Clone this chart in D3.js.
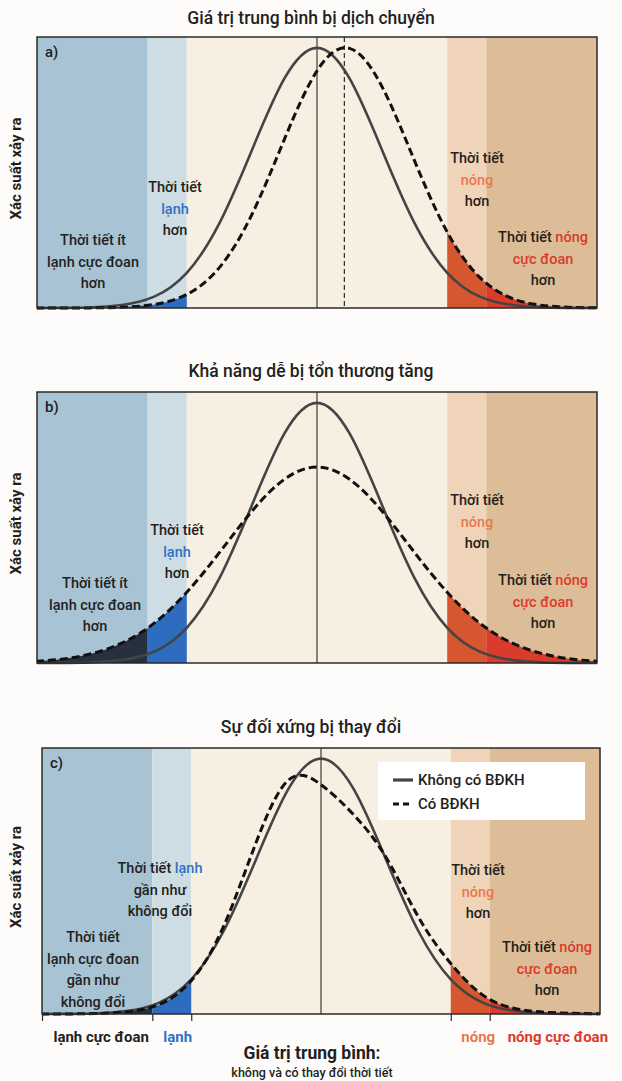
<!DOCTYPE html>
<html>
<head>
<meta charset="utf-8">
<script src="https://cdn.jsdelivr.net/npm/d3@7"></script>
<style>
  body { margin: 0; background: #fdfcfa; }
  svg text { font-family: Roboto, "Noto Sans", sans-serif; }
</style>
</head>
<body>
<div id="chart"></div>
<script>
// x positions in standard deviations, shared by every curve
const xGrid = [-4.5, -4, -3.5, -3, -2.5, -2, -1.5, -1, -0.5, 0, 0.5, 1, 1.5, 2, 2.5, 3, 3.5, 4, 4.5];

// curve heights (share of the frame height)
const solidA  = [0, 0.0003, 0.002, 0.011, 0.042, 0.130, 0.312, 0.582, 0.847, 0.96, 0.847, 0.582, 0.312, 0.130, 0.042, 0.011, 0.002, 0.0003, 0];
const dashedA = [0, 0.0001, 0.0004, 0.0027, 0.013, 0.050, 0.149, 0.345, 0.623, 0.875, 0.958, 0.816, 0.542, 0.280, 0.113, 0.035, 0.0086, 0.0016, 0.0002];
const solidB  = [0, 0.0003, 0.002, 0.011, 0.042, 0.130, 0.312, 0.582, 0.847, 0.96, 0.847, 0.582, 0.312, 0.130, 0.042, 0.011, 0.002, 0.0003, 0];
const dashedB = [0.004, 0.012, 0.032, 0.073, 0.147, 0.261, 0.407, 0.560, 0.678, 0.723, 0.678, 0.560, 0.407, 0.261, 0.147, 0.073, 0.032, 0.012, 0.004];
const solidC  = [0, 0.0003, 0.002, 0.011, 0.042, 0.130, 0.312, 0.582, 0.847, 0.96, 0.847, 0.582, 0.312, 0.130, 0.042, 0.011, 0.002, 0.0003, 0];
const dashedC = [0, 0.0002, 0.0015, 0.008, 0.035, 0.125, 0.33, 0.645, 0.88, 0.862, 0.75, 0.59, 0.365, 0.19, 0.07, 0.02, 0.006, 0.002, 0.0005];

const dashedMeanA = 0.42;

// band edges: extreme cold | cold | normal | hot | extreme hot
const bandEdges = [-2.6, -2, 2, 2.6];
const xExtent = [-4.3, 4.3];

const panelTitles = ["Giá trị trung bình bị dịch chuyển", "Khả năng dễ bị tổn thương tăng", "Sự đối xứng bị thay đổi"];
const panelTags = ["a)", "b)", "c)"];
const yLabel = "Xác suất xảy ra";

// label lines: [text, colour key] pieces
const labelsAB = [
  [[["Thời tiết ít", "k"]], [["lạnh cực đoan", "k"]], [["hơn", "k"]]],
  [[["Thời tiết", "k"]], [["lạnh", "blue"]], [["hơn", "k"]]],
  [[["Thời tiết", "k"]], [["nóng", "orange"]], [["hơn", "k"]]],
  [[["Thời tiết ", "k"], ["nóng", "red"]], [["cực đoan", "red"]], [["hơn", "k"]]]
];
const labelsC = [
  [[["Thời tiết", "k"]], [["lạnh cực đoan", "k"]], [["gần như", "k"]], [["không đổi", "k"]]],
  [[["Thời tiết ", "k"], ["lạnh", "blue"]], [["gần như", "k"]], [["không đổi", "k"]]],
  [[["Thời tiết", "k"]], [["nóng", "orange"]], [["hơn", "k"]]],
  [[["Thời tiết ", "k"], ["nóng", "red"]], [["cực đoan", "red"]], [["hơn", "k"]]]
];

const legendNames = ["Không có BĐKH", "Có BĐKH"];
const axisLabels = [["lạnh cực đoan", "k"], ["lạnh", "blue"], ["nóng", "orange"], ["nóng cực đoan", "red"]];
const xTitle = "Giá trị trung bình:";
const xSubtitle = "không và có thay đổi thời tiết";

const textColor = { k: "#231f20", blue: "#2f72c4", orange: "#e8794c", red: "#dc3a2a" };
const bandColors = ["#a8c4d4", "#cedde4", "#f7efe2", "#efd4b9", "#dcbd98"];
const fillColors = ["#27313e", "#2e6cc0", "#d6572f", "#da3b2c"];

// layout per panel (pixels)
const panels = [
  { solid: solidA, dashed: dashedA, labels: labelsAB, left: 37, right: 597, top: 37, bottom: 308, titleY: 24,
    labelX: [93, 175, 477, 543], labelY: [-68, -121, -150, -71] },
  { solid: solidB, dashed: dashedB, labels: labelsAB, left: 37, right: 597, top: 392, bottom: 663, titleY: 377,
    labelX: [95, 177, 477, 543], labelY: [-80, -133, -163, -83] },
  { solid: solidC, dashed: dashedC, labels: labelsC, left: 42, right: 600, top: 748, bottom: 1014, titleY: 733,
    labelX: [93, 160, 478, 547], labelY: [-77, -146, -144, -67] }
];

const width = 622, height = 1081;
const svg = d3.select("#chart").append("svg")
  .attr("width", width).attr("height", height);
svg.append("rect").attr("width", width).attr("height", height).attr("fill", "#fdfcfa");

const defs = svg.append("defs");
const curve = d3.curveNatural;

panels.forEach(function(p, i) {
  const x = d3.scaleLinear().domain(xExtent).range([p.left, p.right]);
  const y = d3.scaleLinear().domain([0, 1]).range([p.bottom, p.top]);
  const edges = [xExtent[0]].concat(bandEdges, [xExtent[1]]);

  const g = svg.append("g");

  // title
  g.append("text")
    .attr("x", 311).attr("y", p.titleY)
    .attr("text-anchor", "middle")
    .style("font-size", "17.5px").style("font-weight", 500)
    .style("fill", "#231f20")
    .text(panelTitles[i]);

  // y axis label
  g.append("text")
    .attr("transform", "translate(21," + ((p.top + p.bottom) / 2 - 4) + ") rotate(-90)")
    .attr("text-anchor", "middle")
    .style("font-size", "15px").style("font-weight", 700)
    .style("fill", "#231f20")
    .text(yLabel);

  // background bands
  g.selectAll(".band")
    .data(d3.range(5))
    .enter().append("rect")
    .attr("x", k => x(edges[k]))
    .attr("y", p.top)
    .attr("width", k => x(edges[k + 1]) - x(edges[k]))
    .attr("height", p.bottom - p.top)
    .attr("fill", k => bandColors[k]);

  const pts = d => xGrid.map((v, j) => [v, d[j]]);
  const line = d3.line().x(d => x(d[0])).y(d => y(d[1])).curve(curve);
  const area = d3.area().x(d => x(d[0])).y0(y(0)).y1(d => y(d[1])).curve(curve);

  // clip to frame
  const frameId = "frame" + i;
  defs.append("clipPath").attr("id", frameId)
    .append("rect").attr("x", p.left).attr("y", p.top - 5)
    .attr("width", p.right - p.left).attr("height", p.bottom - p.top + 7);

  // tail fills under the dashed curve
  [[0, 0], [1, 1], [3, 2], [4, 3]].forEach(function(pair) {
    const b = pair[0], c = pair[1];
    const id = "clip" + i + "_" + b;
    defs.append("clipPath").attr("id", id)
      .append("rect")
      .attr("x", x(edges[b])).attr("y", p.top)
      .attr("width", x(edges[b + 1]) - x(edges[b]))
      .attr("height", p.bottom - p.top);
    g.append("path")
      .attr("d", area(pts(p.dashed)))
      .attr("fill", fillColors[c])
      .attr("clip-path", "url(#" + id + ")");
  });

  // mean lines
  g.append("line")
    .attr("x1", x(0)).attr("x2", x(0))
    .attr("y1", p.top).attr("y2", p.bottom)
    .attr("stroke", "#2b2b2b").attr("stroke-width", 1.1);
  if (i === 0) {
    g.append("line")
      .attr("x1", x(dashedMeanA)).attr("x2", x(dashedMeanA))
      .attr("y1", p.top).attr("y2", p.bottom)
      .attr("stroke", "#2b2b2b").attr("stroke-width", 1.2)
      .attr("stroke-dasharray", "5,3");
  }

  // curves
  const cg = g.append("g").attr("clip-path", "url(#" + frameId + ")");
  cg.append("path")
    .attr("d", line(pts(p.solid)))
    .attr("fill", "none").attr("stroke", "#444447").attr("stroke-width", 2.6);
  cg.append("path")
    .attr("d", line(pts(p.dashed)))
    .attr("fill", "none").attr("stroke", "#111").attr("stroke-width", 3)
    .attr("stroke-dasharray", "8,4");

  // frame
  g.append("rect")
    .attr("x", p.left).attr("y", p.top)
    .attr("width", p.right - p.left).attr("height", p.bottom - p.top)
    .attr("fill", "none").attr("stroke", "#2a2a2a").attr("stroke-width", 1.5);

  // panel tag
  g.append("text")
    .attr("x", p.left + 8).attr("y", p.top + 20)
    .style("font-size", "15px").style("font-weight", 500).style("fill", "#231f20")
    .text(panelTags[i]);

  // band labels
  p.labels.forEach(function(lines, b) {
    lines.forEach(function(parts, li) {
      const t = g.append("text")
        .attr("x", p.labelX[b])
        .attr("y", p.bottom + p.labelY[b] + li * 21.5)
        .attr("dy", "0.35em")
        .attr("text-anchor", "middle")
        .style("font-size", "14.5px").style("font-weight", 500);
      parts.forEach(function(part) {
        t.append("tspan").style("fill", textColor[part[1]]).text(part[0]);
      });
    });
  });

  if (i === 2) {
    // legend
    const lg = g.append("g").attr("transform", "translate(" + (p.right - 222) + "," + (p.top + 14) + ")");
    lg.append("rect").attr("width", 207).attr("height", 58).attr("fill", "#fff");
    legendNames.forEach(function(name, k) {
      lg.append("line")
        .attr("x1", 15).attr("x2", 35)
        .attr("y1", 18 + k * 24).attr("y2", 18 + k * 24)
        .attr("stroke", k === 0 ? "#444447" : "#111").attr("stroke-width", 3.2)
        .attr("stroke-dasharray", k === 0 ? null : "6,4");
      lg.append("text")
        .attr("x", 40).attr("y", 18 + k * 24).attr("dy", "0.35em")
        .style("font-size", "15px").style("font-weight", 500).style("fill", "#231f20")
        .text(name);
    });

    // bottom axis ticks
    const axis = d3.axisBottom(x)
      .tickValues([xExtent[0]].concat(bandEdges))
      .tickSize(7).tickFormat("");
    const ax = g.append("g").attr("transform", "translate(0," + p.bottom + ")").call(axis);
    ax.select(".domain").remove();
    ax.selectAll("line").attr("stroke", "#2a2a2a").attr("stroke-width", 1.2);

    const centers = [0, 1, 3, 4].map(k => (x(edges[k]) + x(edges[k + 1])) / 2);
    const nudge = [4, 6, 8, 13];
    axisLabels.forEach(function(lab, k) {
      g.append("text")
        .attr("x", centers[k] + nudge[k]).attr("y", p.bottom + 23)
        .attr("dy", "0.35em")
        .attr("text-anchor", "middle")
        .style("font-size", "15px").style("font-weight", 700)
        .style("fill", textColor[lab[1]])
        .text(lab[0]);
    });

    g.append("text")
      .attr("x", 312).attr("y", 1053).attr("dy", "0.35em")
      .attr("text-anchor", "middle")
      .style("font-size", "17.5px").style("font-weight", 700).style("fill", "#231f20")
      .text(xTitle);
    g.append("text")
      .attr("x", 312).attr("y", 1073).attr("dy", "0.35em")
      .attr("text-anchor", "middle")
      .style("font-size", "12.5px").style("font-weight", 500).style("fill", "#231f20")
      .text(xSubtitle);
  }
});
</script>
</body>
</html>
